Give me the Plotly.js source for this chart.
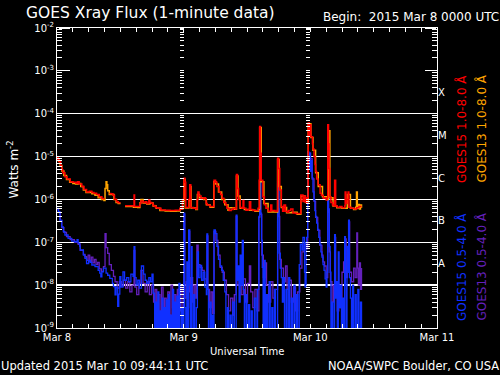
<!DOCTYPE html>
<html><head><meta charset="utf-8">
<script src="https://cdn.plot.ly/plotly-3.0.1.min.js"></script>
<style>html,body{margin:0;padding:0;background:#000;}#chart{width:500px;height:375px;}</style>
</head><body><div id="chart"></div>
<script>
// time in hours since 2015 Mar 8 00:00 UTC, flux in W m^-2
const FLOOR = 5e-10;
const goes15Long = [[0,9.5e-6],[0.2,8.5e-6],[0.4,7.6e-6],[0.7,6.0e-6],[0.9,4.9e-6],[1.1,4.2e-6],[1.5,3.4e-6],[1.9,3.0e-6],[2.5,2.6e-6],[3.0,2.5e-6],[3.6,2.4e-6],[3.9,2.6e-6],[4.2,2.3e-6],[4.7,2.0e-6],[5.1,1.7e-6],[5.6,1.5e-6],[6.1,1.55e-6],[6.6,1.45e-6],[7.0,1.4e-6],[7.5,1.3e-6],[8.0,1.15e-6],[8.5,1.05e-6],[8.9,1.0e-6],[9.2,null],[9.9,1.38e-6],[10.2,1.35e-6],[10.6,1.25e-6],[10.9,1.0e-6],[11.3,8.8e-7],[11.6,8.4e-7],[11.9,8.1e-7],[12.2,null],[12.9,7.1e-7],[13.8,7.1e-7],[14.4,7.0e-7],[14.6,1.27e-6],[14.7,6.8e-7],[15.3,6.8e-7],[15.7,8.0e-7],[15.9,9.2e-7],[16.3,8.5e-7],[16.7,8.8e-7],[17.0,8.0e-7],[17.4,9.7e-7],[17.6,8.5e-7],[17.9,8.1e-7],[18.2,7.2e-7],[18.5,6.8e-7],[18.8,6.4e-7],[19.1,6.2e-7],[19.7,5.7e-7],[20.5,5.6e-7],[21.4,5.5e-7],[22.4,5.6e-7],[22.9,5.6e-7],[23.3,6.2e-7],[23.5,6.0e-7],[23.8,1.0e-6],[24.05,3.1e-6],[24.25,2.5e-6],[24.4,6.5e-7],[24.6,6.5e-7],[24.95,1.0e-6],[25.15,2.2e-6],[25.35,6.5e-7],[25.8,6.2e-7],[26.3,6.0e-7],[26.55,1.0e-6],[26.7,1.5e-6],[26.9,1.2e-6],[27.3,1.05e-6],[27.7,1.1e-6],[28.1,1.05e-6],[28.25,8.0e-7],[28.45,7.4e-7],[29.0,6.8e-7],[29.55,6.8e-7],[29.75,2.8e-6],[30.05,2.5e-6],[30.3,2.0e-6],[30.7,1.5e-6],[31.0,1.3e-6],[31.3,1.06e-6],[31.6,8.5e-7],[32.0,7.4e-7],[32.2,6.2e-7],[32.6,5.5e-7],[33.0,5.8e-7],[33.35,6.2e-7],[33.8,6.0e-7],[34.0,3.8e-6],[34.2,1.8e-6],[34.4,1.0e-6],[34.7,6.5e-7],[35.05,6.2e-7],[35.25,9.5e-7],[35.4,6.2e-7],[35.8,5.6e-7],[36.2,5.8e-7],[36.45,8.8e-7],[36.7,5.8e-7],[37.1,5.5e-7],[37.7,5.5e-7],[38.1,6.2e-7],[38.3,2.8e-6],[38.4,5.0e-5],[38.55,1.2e-5],[38.7,2.8e-6],[39.0,1.16e-6],[39.3,7.5e-7],[39.6,6.2e-7],[40.05,5.3e-7],[40.5,7.4e-7],[40.7,5.5e-7],[41.3,5.3e-7],[41.7,5.5e-7],[41.8,9.1e-6],[42.0,5.3e-6],[42.2,1.66e-6],[42.5,6.8e-7],[42.75,5.3e-7],[43.0,7.4e-7],[43.3,5.3e-7],[43.6,5.0e-7],[43.9,5.5e-7],[44.3,6.0e-7],[44.7,4.8e-7],[45.3,4.7e-7],[45.8,4.7e-7],[46.2,1.27e-6],[46.6,9.0e-7],[46.8,1.2e-6],[47.1,8.5e-7],[47.4,1.1e-6],[47.6,6.1e-5],[47.8,3.0e-5],[47.95,5.5e-5],[48.1,2.9e-5],[48.4,2.0e-5],[48.5,1.5e-5],[48.7,1.0e-5],[48.9,6.5e-6],[49.0,4.5e-6],[49.2,3.0e-6],[49.45,2.2e-6],[49.85,1.4e-6],[50.1,1.25e-6],[50.45,1.06e-6],[51.0,9.7e-7],[51.15,1.1e-6],[51.3,5.5e-5],[51.45,2.0e-5],[51.55,5.3e-6],[51.7,1.16e-6],[51.9,8.5e-7],[52.2,7.4e-7],[52.5,7.0e-7],[52.6,2.8e-6],[52.8,7.0e-7],[53.1,6.6e-7],[53.6,6.8e-7],[54.0,6.4e-7],[54.5,7.0e-7],[54.6,1.5e-6],[54.75,8.0e-7],[54.95,1.0e-6],[55.15,1.5e-6],[55.3,6.6e-7],[55.7,6.2e-7],[56.3,6.0e-7],[56.8,6.4e-7],[57.2,6.8e-7],[57.7,6.8e-7]];

const goes13Long = [[0,9.0e-6],[0.3,7.8e-6],[0.6,6.2e-6],[0.9,4.6e-6],[1.3,3.6e-6],[1.8,2.9e-6],[2.4,2.5e-6],[3.0,2.35e-6],[3.5,2.3e-6],[4.0,2.35e-6],[4.5,2.0e-6],[5.0,1.65e-6],[5.5,1.45e-6],[6.0,1.45e-6],[6.6,1.35e-6],[7.2,1.25e-6],[7.8,1.1e-6],[8.4,1.0e-6],[8.9,9.5e-7],[9.1,1.8e-6],[9.3,2.6e-6],[9.45,2.2e-6],[9.6,1.6e-6],[9.9,1.3e-6],[10.3,1.3e-6],[10.8,1.0e-6],[11.2,8.5e-7],[11.6,8.0e-7],[11.9,7.7e-7],[12.2,null],[12.9,6.8e-7],[13.8,6.8e-7],[14.5,6.6e-7],[15.3,6.5e-7],[15.7,8.2e-7],[15.9,1.0e-6],[16.3,8.2e-7],[17.0,7.8e-7],[17.6,8.2e-7],[18.2,7.0e-7],[18.8,6.2e-7],[19.5,5.5e-7],[20.5,5.4e-7],[21.5,5.3e-7],[22.5,5.4e-7],[23.3,6.0e-7],[23.8,9.5e-7],[24.05,2.9e-6],[24.3,6.3e-7],[25.0,9.5e-7],[25.2,2.0e-6],[25.4,6.3e-7],[26.3,5.8e-7],[26.6,1.3e-6],[27.0,1.1e-6],[27.8,1.0e-6],[28.3,7.5e-7],[29.0,6.6e-7],[29.7,2.6e-6],[30.1,2.3e-6],[30.6,1.5e-6],[31.2,1.0e-6],[31.8,7.5e-7],[32.4,5.6e-7],[32.6,6.4e-7],[33.6,5.9e-7],[34.0,3.5e-6],[34.3,1.2e-6],[34.7,6.2e-7],[35.5,5.8e-7],[36.5,5.6e-7],[37.5,5.3e-7],[38.2,6.0e-7],[38.4,4.8e-5],[38.7,2.6e-6],[39.2,8.0e-7],[40.0,5.1e-7],[41.0,5.1e-7],[41.8,8.6e-6],[42.1,2.0e-6],[42.5,6.5e-7],[43.5,4.9e-7],[44.5,5.0e-7],[45.5,4.5e-7],[46.2,1.2e-6],[47.0,8.8e-7],[47.6,5.8e-5],[48.1,2.8e-5],[48.5,1.4e-5],[49.0,4.2e-6],[49.5,2.0e-6],[50.3,1.15e-6],[51.2,1.0e-6],[51.4,4.0e-5],[51.7,1.1e-6],[52.3,7.0e-7],[53.0,6.4e-7],[54.0,6.2e-7],[55.0,1.3e-6],[55.6,6.2e-7],[56.2,5.8e-7],[56.6,6.6e-7],[56.75,1.5e-6],[56.9,6.2e-7],[57.1,7.6e-7],[57.3,6.0e-7],[57.5,7.4e-7],[57.7,6.4e-7]];

const goes15Short = [[0,6.2e-7],[0.25,5.2e-7],[0.55,3.3e-7],[0.9,2.3e-7],[1.2,1.77e-7],[1.5,1.48e-7],[2.1,1.24e-7],[2.8,1.07e-7],[3.4,1.03e-7],[3.8,1.15e-7],[4.0,9.6e-8],[4.3,8.0e-8],[4.4,6.6e-8],[5.0,5.0e-8],[5.3,4.2e-8],[5.6,3.2e-8],[6.0,3.8e-8],[6.3,3.4e-8],[6.6,2.95e-8],[7.2,2.7e-8],[7.8,2.2e-8],[8.1,1.9e-8],[8.3,1.57e-8],[8.5,2.05e-8],[8.8,2.5e-8],[9.3,1.9e-8],[9.6,1.7e-8],[10.0,1.44e-8],[10.5,1.1e-8],[10.7,9.2e-9],[11.0,5.9e-9],[11.2,9.0e-9],[11.5,3.2e-9],[11.7,6.2e-9],[11.9,1.57e-8],[12.1,9.0e-9],[12.5,2.05e-8],[12.8,1.3e-8],[13.2,1.5e-8],[13.6,1.2e-8],[14.0,1.8e-8],[14.4,1.6e-8],[14.6,7.9e-8],[14.75,1.5e-8],[15.0,1.0e-8],[15.3,1.3e-8],[15.6,8.5e-9],[16.0,2.8e-8],[16.4,1.8e-8],[16.7,1.3e-8],[17.0,1.1e-8],[17.4,1.5e-8],[17.7,1.2e-8],[18.0,1.8e-8],[18.2,6.5e-9],[18.5,FLOOR],[18.7,4e-9],[18.9,FLOOR],[19.1,7e-9],[19.3,FLOOR],[19.5,2.5e-9],[19.7,FLOOR],[19.9,5e-9],[20.1,FLOOR],[20.3,3e-9],[20.5,FLOOR],[20.7,4.5e-9],[20.9,FLOOR],[21.1,6e-9],[21.3,FLOOR],[21.5,2e-9],[21.7,FLOOR],[21.9,8e-9],[22.1,FLOOR],[22.3,4e-9],[22.5,FLOOR],[22.7,5.5e-9],[22.9,FLOOR],[23.1,1.1e-8],[23.3,FLOOR],[23.6,3e-9],[23.8,FLOOR],[24.05,4.8e-7],[24.2,3.0e-9],[24.4,FLOOR],[24.6,3.5e-8],[24.7,FLOOR],[24.95,1.94e-7],[25.15,1.0e-8],[25.3,FLOOR],[25.5,7.9e-8],[25.6,FLOOR],[25.9,6e-9],[26.1,FLOOR],[26.4,3e-9],[26.6,6e-8],[26.8,1.5e-8],[27.1,2.9e-8],[27.4,1.3e-8],[27.7,2.0e-8],[28.0,9e-9],[28.3,6e-9],[28.4,1.56e-7],[28.55,8e-9],[28.7,FLOOR],[29.0,4e-9],[29.2,FLOOR],[29.4,2e-9],[29.6,FLOOR],[29.75,1.94e-7],[30.0,1.6e-7],[30.3,8e-8],[30.6,4e-8],[30.9,2.8e-8],[31.2,2.2e-8],[31.5,1.3e-8],[31.8,7e-9],[32.0,FLOOR],[32.3,3e-9],[32.5,FLOOR],[32.8,2e-9],[33.0,FLOOR],[33.3,4e-9],[33.6,FLOOR],[33.95,4.3e-7],[34.1,1.3e-8],[34.3,2.8e-8],[34.5,4e-9],[34.7,5e-8],[34.9,1e-8],[35.1,1.1e-7],[35.3,8e-9],[35.5,FLOOR],[35.8,6e-9],[36.0,FLOOR],[36.3,3.5e-9],[36.5,FLOOR],[36.8,2.5e-9],[37.0,FLOOR],[37.4,5e-9],[37.7,FLOOR],[38.0,8e-9],[38.25,4e-7],[38.4,3.7e-6],[38.6,4.8e-7],[38.75,1.1e-7],[38.9,2.6e-8],[39.05,FLOOR],[39.3,3.8e-8],[39.45,FLOOR],[39.7,6e-9],[39.9,FLOOR],[40.2,1.2e-8],[40.4,FLOOR],[40.7,3e-9],[40.9,FLOOR],[41.2,8e-9],[41.4,FLOOR],[41.8,2.6e-6],[42.0,6e-7],[42.1,5.6e-8],[42.3,2.5e-8],[42.5,1.5e-8],[42.7,4e-9],[42.9,1.5e-8],[43.1,FLOOR],[43.4,8e-9],[43.6,FLOOR],[43.9,1.5e-8],[44.1,FLOOR],[44.4,5e-9],[44.6,FLOOR],[44.9,1.0e-8],[45.1,FLOOR],[45.4,6e-9],[45.6,FLOOR],[45.9,3e-8],[46.1,9e-8],[46.4,6.6e-8],[46.6,1.3e-7],[46.9,2e-8],[47.0,9e-9],[47.2,1.0e-7],[47.3,1.3e-7],[47.5,1.3e-5],[47.7,5e-6],[47.85,1.2e-5],[48.05,4.5e-6],[48.2,8e-6],[48.35,3.2e-6],[48.5,1.5e-6],[48.7,9.7e-7],[48.85,5.5e-7],[49.0,4.0e-7],[49.2,2.8e-7],[49.4,2.0e-7],[49.6,1.3e-7],[49.8,9e-8],[50.0,6e-8],[50.2,4.5e-8],[50.4,3e-8],[50.6,2.2e-8],[50.8,1.4e-8],[51.0,9e-9],[51.15,2e-8],[51.3,5.3e-6],[51.45,6e-7],[51.6,8e-8],[51.75,2e-8],[51.9,FLOOR],[52.1,4e-9],[52.3,FLOOR],[52.6,1.5e-7],[52.75,5e-9],[52.9,1.2e-8],[53.1,FLOOR],[53.3,6e-8],[53.45,3e-9],[53.7,1e-8],[53.9,FLOOR],[54.1,5e-9],[54.3,FLOOR],[54.5,1.35e-7],[54.65,1e-8],[54.8,FLOOR],[54.95,8e-8],[55.1,2e-8],[55.25,3.3e-7],[55.4,1.5e-8],[55.6,5e-9],[55.8,FLOOR],[56.0,1e-8],[56.2,FLOOR],[56.5,6e-9],[56.7,FLOOR],[57.0,8e-9],[57.2,FLOOR],[57.5,4e-9],[57.7,FLOOR]];

const goes13Short = [[0,6.0e-7],[0.3,5.0e-7],[0.6,3.2e-7],[0.9,2.2e-7],[1.3,1.7e-7],[1.8,1.35e-7],[2.5,1.15e-7],[3.3,1.0e-7],[4.0,9.0e-8],[4.4,6.5e-8],[5.0,5.2e-8],[5.3,4.6e-8],[5.6,3.8e-8],[5.9,5.0e-8],[6.2,3.6e-8],[6.5,4.5e-8],[6.8,3.3e-8],[7.1,4.0e-8],[7.4,3.0e-8],[7.7,3.4e-8],[8.0,2.4e-8],[8.4,2.1e-8],[8.8,2.7e-8],[9.1,1.6e-7],[9.3,7.5e-8],[9.6,5.5e-8],[9.9,3.0e-8],[10.3,2.2e-8],[10.7,1.6e-8],[11.0,1.2e-8],[11.4,8.5e-9],[11.8,1.2e-8],[12.2,9.5e-9],[12.6,1.3e-8],[13.0,8.5e-9],[13.4,1.2e-8],[13.8,7e-9],[14.2,1.0e-8],[14.6,6.5e-8],[14.75,9e-9],[15.1,6e-9],[15.5,1.1e-8],[15.9,2.2e-8],[16.3,1.1e-8],[16.7,7e-9],[17.1,1.2e-8],[17.5,6e-9],[17.9,1e-8],[18.3,4e-9],[18.6,8e-9],[18.9,2e-9],[19.2,6e-9],[19.5,1.5e-9],[19.8,9e-9],[20.1,2.5e-9],[20.4,5e-9],[20.7,1.8e-9],[21.0,7e-9],[21.3,2e-9],[21.6,1.0e-8],[21.9,3e-9],[22.2,6e-9],[22.5,1.5e-9],[22.8,8e-9],[23.1,2.5e-9],[23.4,9e-9],[23.7,3e-9],[24.0,4.5e-7],[24.2,5e-9],[24.5,1.2e-8],[24.8,3e-9],[24.95,1.8e-7],[25.15,7e-9],[25.4,1.5e-8],[25.7,4e-9],[26.0,1.0e-8],[26.3,5e-9],[26.5,8.6e-8],[26.75,3e-8],[27.1,2.6e-8],[27.5,2.2e-8],[27.9,1.4e-8],[28.3,1.0e-8],[28.45,1.4e-7],[28.6,8e-9],[28.9,3e-9],[29.2,7e-9],[29.5,2.2e-9],[29.75,1.8e-7],[30.1,1.1e-7],[30.5,5e-8],[30.9,2.6e-8],[31.3,2.0e-8],[31.7,1.3e-8],[32.1,6e-9],[32.5,2.5e-9],[32.9,5e-9],[33.3,2e-9],[33.6,6e-9],[33.95,4e-7],[34.1,1.0e-8],[34.5,2e-8],[34.9,6e-9],[35.3,1.4e-8],[35.7,4e-9],[36.1,1.1e-8],[36.45,2.8e-8],[36.7,7e-9],[37.1,3e-9],[37.5,8e-9],[37.9,2.5e-9],[38.25,3.8e-7],[38.4,3.5e-6],[38.6,4.5e-7],[38.8,5e-8],[39.1,1.5e-8],[39.4,3.3e-8],[39.7,1.0e-8],[40.1,4e-9],[40.5,1.2e-8],[40.9,5e-9],[41.3,8e-9],[41.8,2.4e-6],[42.05,4e-7],[42.2,4e-8],[42.5,2.5e-8],[42.9,1.2e-8],[43.3,2.8e-8],[43.6,8e-9],[44.0,1.3e-8],[44.4,4e-9],[44.8,9e-9],[45.2,2.5e-9],[45.6,7e-9],[46.0,2.5e-8],[46.4,6e-8],[46.8,9e-8],[47.2,7e-8],[47.5,1.2e-5],[48.0,9e-6],[48.35,3e-6],[48.7,9e-7],[49.0,3.8e-7],[49.4,1.9e-7],[49.8,8.5e-8],[50.2,5e-8],[50.4,3.5e-8],[50.7,2.8e-8],[51.0,1.5e-8],[51.3,5e-6],[51.45,5e-7],[51.6,6e-8],[51.8,1.2e-8],[52.1,4e-9],[52.4,1.0e-8],[52.6,1.3e-7],[52.8,6e-9],[53.1,2.5e-9],[53.4,8e-9],[53.7,3e-9],[54.0,2e-8],[54.3,3.5e-8],[54.6,1.2e-7],[54.8,1.5e-8],[55.0,3.8e-8],[55.25,3e-7],[55.45,2e-8],[55.8,1.2e-8],[56.2,2.5e-8],[56.5,1.5e-8],[56.8,1.65e-7],[56.95,2.5e-8],[57.1,1.0e-8],[57.3,3.3e-8],[57.5,8e-9],[57.7,2.5e-8]];

const seriesNames = ['GOES15 1.0-8.0 Å','GOES13 1.0-8.0 Å','GOES15 0.5-4.0 Å','GOES13 0.5-4.0 Å'];
const seriesColors = ['#ff0000','#ffa500','#1030ff','#6420bc'];
const dayTicks = [0,24,48,72];
const dayLabels = ['Mar 8','Mar 9','Mar 10','Mar 11'];
const hourStep = 3;
const decadeVals = [1e-9,1e-8,1e-7,1e-6,1e-5,1e-4,1e-3,1e-2];
const decadeLabels = ['10<sup>-9</sup>','10<sup>-8</sup>','10<sup>-7</sup>','10<sup>-6</sup>','10<sup>-5</sup>','10<sup>-4</sup>','10<sup>-3</sup>','10<sup>-2</sup>'];
const classVals = [3.16e-8,3.16e-7,3.16e-6,3.16e-5,3.16e-4];
const classLabels = ['A','B','C','M','X'];
const classLineVals = [1e-8,1e-7,1e-6,1e-5,1e-4];
const minorDigits = [2,3,4,5,6,7,8,9];

// tick lists built from the arrays above
const minorVals = [];
decadeVals.slice(0,-1).forEach(d => minorDigits.forEach(m => minorVals.push(d*m)));
const allTickVals = decadeVals.concat(minorVals);
const allTickText = decadeLabels.concat(minorVals.map(() => ''));
const xTickVals = [], xTickText = [];
for (let h = 0; h <= 72; h += hourStep) {
  xTickVals.push(h);
  const k = dayTicks.indexOf(h);
  xTickText.push(k >= 0 ? dayLabels[k] : '');
}

function mk(data, name, color, w) {
  return {x: data.map(p => p[0]), y: data.map(p => p[1]), name: name, type: 'scatter', mode: 'lines',
          line: {color: color, width: w, shape: 'hv'}, connectgaps: false, hoverinfo: 'skip'};
}
const empty = (xa, ya) => ({x: [], y: [], xaxis: xa, yaxis: ya, type: 'scatter', hoverinfo: 'skip'});
const traces = [
  mk(goes13Short, seriesNames[3], seriesColors[3], 1.3),
  mk(goes15Short, seriesNames[2], seriesColors[2], 1.3),
  mk(goes13Long, seriesNames[1], seriesColors[1], 1.5),
  mk(goes15Long, seriesNames[0], seriesColors[0], 1.5),
  empty('x','y2'), empty('x','y3'), empty('x','y4'), empty('x','y5'), empty('x','y6'), empty('x','y7')
];

const FONT = 'DejaVu Sans, sans-serif';
const W = '#ffffff';
const over = {type: 'log', range: [-9, -2], overlaying: 'y', showgrid: false, zeroline: false,
              showline: false, showticklabels: false, ticks: '', fixedrange: true};
const px = v => (v - 57) / 380, py = v => (328 - v) / 300;

const layout = {
  width: 500, height: 375, paper_bgcolor: '#000', plot_bgcolor: '#000',
  margin: {l: 57, r: 63, t: 28, b: 47, pad: 0},
  showlegend: false, hovermode: false,
  font: {family: FONT, color: W, size: 10},
  xaxis: {range: [0, 72], tickmode: 'array', tickvals: xTickVals, ticktext: xTickText, ticks: 'inside', ticklen: 4,
          tickcolor: W, tickwidth: 1, showline: true, linecolor: W, linewidth: 1, mirror: 'ticks',
          showgrid: false, zeroline: false, fixedrange: true, tickfont: {size: 10, color: W}},
  yaxis: {type: 'log', range: [-9, -2], tickmode: 'array', tickvals: allTickVals, ticktext: allTickText,
          ticks: 'inside', ticklen: 5, tickcolor: W, tickwidth: 1, showline: true, linecolor: W, linewidth: 1,
          mirror: 'ticks', showgrid: false, zeroline: false, fixedrange: true, tickfont: {size: 10, color: W}},
  yaxis2: Object.assign({}, over, {anchor: 'free', position: 24/72, side: 'left', ticks: 'outside', ticklen: 4,
          tickcolor: W, tickwidth: 1, tickmode: 'array', tickvals: allTickVals}),
  yaxis3: Object.assign({}, over, {anchor: 'free', position: 48/72, side: 'left', ticks: 'outside', ticklen: 4,
          tickcolor: W, tickwidth: 1, tickmode: 'array', tickvals: allTickVals}),
  yaxis4: Object.assign({}, over, {tickmode: 'array', tickvals: classLineVals, showgrid: true, gridcolor: W, gridwidth: 1.5}),
  yaxis5: Object.assign({}, over, {side: 'right', anchor: 'x', tickmode: 'array', tickvals: classVals, ticktext: classLabels,
          showticklabels: true, tickfont: {size: 10, color: W}}),
  yaxis6: Object.assign({}, over, {anchor: 'free', position: 0.002, side: 'right', ticks: 'outside', ticklen: 11, tickcolor: W,
          tickwidth: 1, tickmode: 'array', tickvals: decadeVals}),
  yaxis7: Object.assign({}, over, {anchor: 'free', position: 0.998, side: 'left', ticks: 'outside', ticklen: 11, tickcolor: W,
          tickwidth: 1, tickmode: 'array', tickvals: decadeVals}),
  annotations: [
    {text: 'GOES Xray Flux (1-minute data)', xref: 'paper', yref: 'paper', x: px(24), y: py(13.5), xanchor: 'left', yanchor: 'middle', showarrow: false, font: {size: 15.5, color: W}},
    {text: 'Begin:\u00a0 2015 Mar 8 0000 UTC', xref: 'paper', yref: 'paper', x: px(501), y: py(17), xanchor: 'right', yanchor: 'middle', showarrow: false, font: {size: 12, color: W}},
    {text: 'Updated 2015 Mar 10 09:44:11 UTC', xref: 'paper', yref: 'paper', x: px(-1), y: py(366), xanchor: 'left', yanchor: 'middle', showarrow: false, font: {size: 11.5, color: W}},
    {text: 'NOAA/SWPC Boulder, CO USA', xref: 'paper', yref: 'paper', x: px(501), y: py(366), xanchor: 'right', yanchor: 'middle', showarrow: false, font: {size: 11.5, color: W}},
    {text: 'Universal Time', xref: 'paper', yref: 'paper', x: px(247), y: py(351), xanchor: 'center', yanchor: 'middle', showarrow: false, font: {size: 10, color: W}},
    {text: 'Watts m<sup>-2</sup>', xref: 'paper', yref: 'paper', x: px(12.5), y: py(170), xanchor: 'center', yanchor: 'middle', textangle: -90, showarrow: false, font: {size: 12, color: W}},
    {text: seriesNames[0], xref: 'paper', yref: 'paper', x: px(461.5), y: py(128.5), xanchor: 'center', yanchor: 'middle', textangle: -90, showarrow: false, font: {size: 12, color: seriesColors[0]}},
    {text: seriesNames[1], xref: 'paper', yref: 'paper', x: px(481), y: py(128.5), xanchor: 'center', yanchor: 'middle', textangle: -90, showarrow: false, font: {size: 12, color: seriesColors[1]}},
    {text: seriesNames[2], xref: 'paper', yref: 'paper', x: px(461.5), y: py(266.5), xanchor: 'center', yanchor: 'middle', textangle: -90, showarrow: false, font: {size: 12, color: seriesColors[2]}},
    {text: seriesNames[3], xref: 'paper', yref: 'paper', x: px(481), y: py(266.5), xanchor: 'center', yanchor: 'middle', textangle: -90, showarrow: false, font: {size: 12, color: seriesColors[3]}}
  ]
};

Plotly.newPlot('chart', traces, layout, {staticPlot: true, displayModeBar: false});
</script>
</body></html>
